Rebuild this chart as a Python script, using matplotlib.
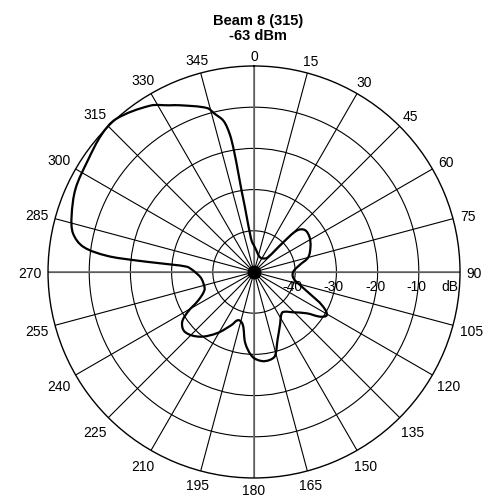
import numpy as np
import matplotlib
matplotlib.use('Agg')
import matplotlib.pyplot as plt
from matplotlib.path import Path
from matplotlib.patches import PathPatch
import matplotlib.transforms as mtransforms

# ---- data ----
title_line1 = "Beam 8 (315)"
title_line2 = "-63 dBm"
angle_deg = [0, 8, 15, 25, 35, 43, 44.5, 46, 50.5, 58, 66, 75, 81, 90, 99, 107,
             112, 116, 120.5, 124, 128, 136, 144, 148, 153, 161, 166, 170, 175,
             181, 187, 192, 198, 203, 211, 220, 229, 235, 239, 243, 250, 258,
             264, 268, 272, 274.5, 275.3, 275.6, 276.3, 278.4, 282, 287, 295,
             304, 312, 318, 328, 333, 336, 344, 346, 348.6, 350, 350.6, 351,
             351.3, 352, 352.7, 354, 356]
gain_db = [-43.6, -45.0, -45.8, -46.2, -46.0, -45.3, -40.0, -35.5, -34.0, -34.1,
           -35.0, -36.4, -38.7, -40.5, -40.3, -37.9, -35.0, -31.7, -29.5, -30.6,
           -33.7, -36.4, -38.0, -37.6, -36.0, -32.5, -29.0, -28.3, -28.3, -29.4,
           -32.6, -36.9, -37.7, -36.0, -32.7, -29.5, -27.8, -28.7, -31.3, -34.8,
           -37.2, -37.4, -37.0, -36.2, -35.0, -33.6, -27.0, -21.0, -14.0, -8.1,
           -5.1, -3.7, -2.2, -1.4, -0.2, 0.0, -2.4, -4.6, -5.7, -8.6, -10.4,
           -12.6, -16.0, -20.0, -26.0, -30.0, -34.0, -37.5, -40.6, -42.6]
theta_ticks = list(range(0, 360, 15))
r_ticks = [-40, -30, -20, -10]
r_tick_labels = ['-40', '-30', '-20', '-10']
r_unit = 'dB'
r_min, r_max = -50, 0

plt.rcParams['font.family'] = ['Liberation Sans', 'DejaVu Sans']
fig = plt.figure(figsize=(4.9, 4.98), dpi=100)
ax = fig.add_axes([0.098, 0.0402, 0.8408, 0.8273], projection='polar')
ax.set_theta_zero_location('N')
ax.set_theta_direction(-1)
ax.set_ylim(r_min, r_max)
ax.set_thetagrids(theta_ticks, labels=[''] * len(theta_ticks))
ax.set_rgrids(r_ticks, labels=[''] * len(r_ticks))
ax.grid(True, color='black', lw=0.8)
ax.tick_params(length=0)
ax.spines['polar'].set_color('black')
ax.spines['polar'].set_linewidth(1.0)

for t in (0, 90, 180, 270):
    ax.plot([np.deg2rad(t)] * 2, [r_min, r_max], color='#707070', lw=1.2, zorder=2.5)

ax.plot([0], [r_min], 'o', color='black', ms=9, zorder=5)

# pattern curve: smooth closed Bezier through the data points (display space)
pts = ax.transData.transform(np.column_stack([np.deg2rad(angle_deg), gain_db]))
n = len(pts)
verts = [pts[0]]
codes = [Path.MOVETO]
for i in range(n):
    p0, p1, p2, p3 = pts[i - 1], pts[i], pts[(i + 1) % n], pts[(i + 2) % n]
    seg = np.linalg.norm(p2 - p1)
    t1 = p2 - p0
    t1 = t1 / np.linalg.norm(t1)
    t2 = p3 - p1
    t2 = t2 / np.linalg.norm(t2)
    verts += [p1 + t1 * seg / 3, p2 - t2 * seg / 3, p2]
    codes += [Path.CURVE4] * 3
curve = PathPatch(Path(verts, codes), facecolor='none', edgecolor='black',
                  lw=1.6, transform=mtransforms.IdentityTransform(), zorder=4,
                  clip_on=False)
fig.add_artist(curve)

# angle labels
px2pt = 72.0 / fig.dpi
gap = 6.0
for t in theta_ticks:
    s = str(t)
    w = 8.2 * len(s)
    h = 10.0
    ux, uy = np.sin(np.deg2rad(t)), np.cos(np.deg2rad(t))
    ext = abs(ux) * w / 2 + abs(uy) * h / 2
    d = gap + ext
    ax.annotate(s, xy=(np.deg2rad(t), r_max), xycoords='data',
                xytext=(d * ux * px2pt, (d * uy - 2.0) * px2pt),
                textcoords='offset points', ha='center', va='center',
                fontsize=10, annotation_clip=False)

# radial labels
for rv, lab in zip(r_ticks, r_tick_labels):
    ax.annotate(lab, xy=(np.pi / 2, rv), xycoords='data',
                xytext=(-2.5 * px2pt, -15 * px2pt), textcoords='offset points',
                ha='center', va='center', fontsize=10)
ax.annotate(r_unit, xy=(np.pi / 2, r_max), xycoords='data',
            xytext=(-10 * px2pt, -15 * px2pt), textcoords='offset points',
            ha='center', va='center', fontsize=10)

fig.text(258 / 490, 1 - 14 / 498, title_line1 + "\n" + title_line2,
         ha='center', va='top', fontsize=10.5, fontweight='bold', linespacing=1.1)

fig.savefig('out.png', dpi=100)
